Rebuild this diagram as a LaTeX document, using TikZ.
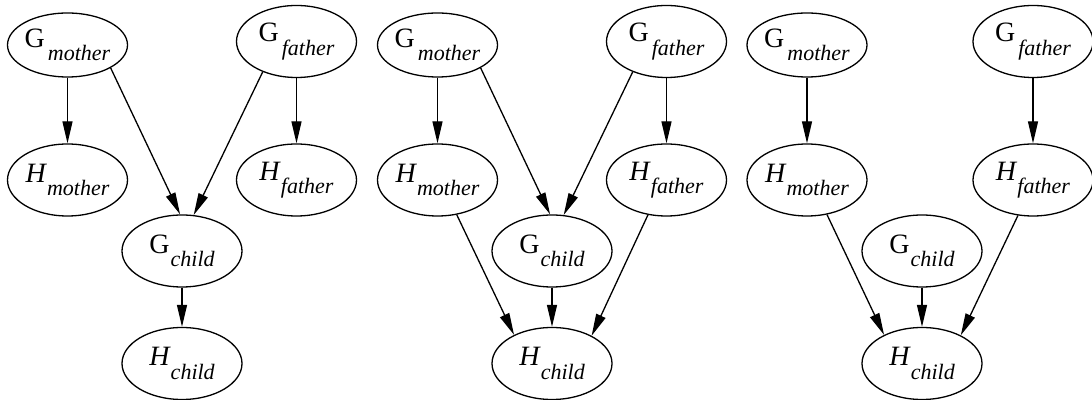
\documentclass[tikz,border=0pt]{standalone}
\usepackage{fontspec}
\setmainfont{Liberation Serif}
\usetikzlibrary{arrows.meta,positioning,shapes.geometric}

\newcommand{\gv}[2]{#1\raisebox{-6.8pt}{\fontsize{11}{11}\selectfont\itshape #2}}

\begin{document}
\begin{tikzpicture}[x=0.5pt, y=-0.5pt,
            node distance=67.5pt and 114.5pt, on grid,
            >={Triangle[length=11pt,width=5pt]},
            every edge/.append style={->}, % makes the edges directed
            line width=0.65pt,
            var/.style={draw, ellipse, inner xsep=-1pt, inner ysep=0pt, minimum width=60pt, minimum height=36pt,
                        font=\fontsize{14}{14}\selectfont}, % every random variable
            low/.style={minimum height=32pt},
        ]
        \useasboundingbox (0,0) rectangle (1092,400);

        % first graph
        \node[var, low] (gm1) at (67.5,45) {\gv{G\kern1.5pt}{mother}};
        \node[var, right=of gm1, yshift=1.75pt] (gf1) {\gv{G\kern1.5pt}{father}};
        \node[var, below=of gm1] (hm1) {\gv{\textit{H}}{mother}};
        \node[var, right=of hm1] (hf1) {\gv{\textit{H}}{father}};
        \node[var, below right=35.5pt and 57.25pt of hm1] (gc1) {\gv{G\kern0.5pt}{child}};
        \node[var, below=56.25pt of gc1] (hc1) {\gv{\textit{H}}{child}};
        \path
        (gm1) edge (hm1)
        (gf1) edge (hf1)
        (gm1.-28) edge (gc1.93)
        (gf1.-138) edge (gc1.72)
        (gc1) edge (hc1);

        % second graph
        \node[var, low] (gm2) at (437.5,45) {\gv{G\kern1.5pt}{mother}};
        \node[var, right=of gm2, yshift=1.75pt] (gf2) {\gv{G\kern1.5pt}{father}};
        \node[var, below=of gm2] (hm2) {\gv{\textit{H}}{mother}};
        \node[var, right=of hm2] (hf2) {\gv{\textit{H}}{father}};
        \node[var, below right=35.5pt and 57.25pt of hm2] (gc2) {\gv{G\kern0.5pt}{child}};
        \node[var, below=56.25pt of gc2] (hc2) {\gv{\textit{H}}{child}};
        \path
        (gm2) edge (hm2)
        (gf2) edge (hf2)
        (gm2.-28) edge (gc2.93)
        (gf2.-138) edge (gc2.72)
        (gc2) edge (hc2)
        (hm2.-61) edge (hc2.143)
        (hf2.-118) edge (hc2.35);

        % third graph
        \node[var, low] (gm3) at (807,45) {\gv{G\kern1.5pt}{mother}};
        \node[var, right=113pt of gm3, yshift=1.75pt] (gf3) {\gv{G\kern1.5pt}{father}};
        \node[var, below=of gm3] (hm3) {\gv{\textit{H}}{mother}};
        \node[var, right=113pt of hm3] (hf3) {\gv{\textit{H}}{father}};
        \node[var, below right=35.5pt and 57.5pt of hm3] (gc3) {\gv{G\kern0.5pt}{child}};
        \node[var, below=56.25pt of gc3] (hc3) {\gv{\textit{H}}{child}};
        \path
        (gm3) edge (hm3)
        (gf3) edge (hf3)
        (gc3) edge (hc3)
        (hm3.-60) edge (hc3.143)
        (hf3.-113) edge (hc3.36);
    \end{tikzpicture}
\end{document}
